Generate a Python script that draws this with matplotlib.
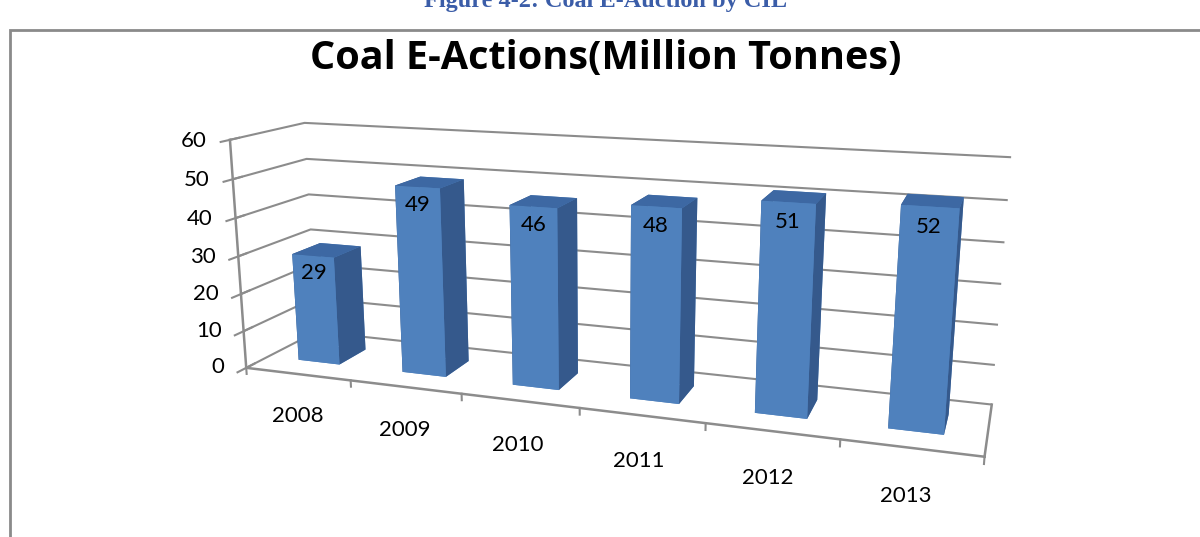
import matplotlib.pyplot as plt
from matplotlib.patches import Rectangle

plt.rcParams['font.family'] = ['Lato', 'DejaVu Sans']

years = ['2008', '2009', '2010', '2011', '2012', '2013']
tonnes = [29, 49, 46, 48, 51, 52]
z_ticks = [0, 10, 20, 30, 40, 50, 60]

front_c = '#4F81BD'
side_c = '#35598C'
top_c = '#3D68A3'
grid_c = '#8C8C8C'

fig = plt.figure(figsize=(12, 5.37), dpi=100)

# outer chart border and the cut-off figure caption
fig.add_artist(Rectangle((10 / 1200, -0.1), 1.5, 1.1 - 30 / 537,
                         transform=fig.transFigure, fill=False,
                         ec='#8A8A8A', lw=2))
fig.text(606 / 1200, 1 - 7 / 537, 'Figure 4-2: Coal E-Auction by CIL',
         family='Liberation Serif', weight='bold', size=17.5,
         color='#3B5DA8', ha='center', va='baseline')
fig.text(606 / 1200, 1 - 69 / 537, 'Coal E-Actions(Million Tonnes)',
         family=['Open Sans', 'DejaVu Sans'], weight='bold', size=28.5,
         ha='center', va='baseline')

ax = fig.add_axes([0.1671, -0.2518, 0.6535, 1.4603], projection='3d')
ax.set_proj_type('persp', focal_length=0.3)
ax.view_init(elev=14, azim=-71)
ax.set_box_aspect((700, 130, 226), zoom=1.0)

n = len(tonnes)
xs = list(range(n))
bw = 0.4
y0 = 0.3
depth = 0.4
faces = []
for _ in range(n):
    # -z, +z, -y, +y, -x, +x
    faces += [front_c, top_c, front_c, front_c, side_c, side_c]
ax.bar3d([x - bw / 2 for x in xs], [y0] * n, [0] * n, bw, depth, tonnes,
         color=faces, shade=False, linewidth=0)

ax.set_xlim(-0.5, n - 0.5, view_margin=0)
ax.set_ylim(0, 1, view_margin=0)
ax.set_zlim(0, 60, view_margin=0)
ax.set_xticks([x + 0.5 for x in range(-1, n)])
ax.set_yticks([])
ax.set_zticks(z_ticks)
ax.zaxis.set_ticks_position('lower')
# category ticks hang straight down from the front edge
ax.xaxis._get_tickdir = lambda position: 2
for axis in (ax.xaxis, ax.yaxis, ax.zaxis):
    axis.set_tick_params(labelbottom=False)
    axis.set_pane_color((1, 1, 1, 0))
    axis.pane.set_edgecolor('none')
    axis.line.set_color(grid_c)
    axis.line.set_linewidth(1.8)
    axis._axinfo['grid']['color'] = grid_c
    axis._axinfo['grid']['linewidth'] = 1.5
    axis._axinfo['tick']['linewidth'] = {True: 1.5, False: 1.0}
ax.xaxis._axinfo['grid']['linewidth'] = 0
ax.xaxis._axinfo['tick']['inward_factor'] = 0.0
ax.xaxis._axinfo['tick']['outward_factor'] = 0.35
ax.zaxis._axinfo['tick']['inward_factor'] = 1.4
ax.zaxis._axinfo['tick']['outward_factor'] = 1.4
ax.tick_params(colors=grid_c, width=1.5)

for z in z_ticks:
    ax.text(-0.72, 0, z - 0.6, str(z), ha='right', va='center', fontsize=16)
for x, yr in zip(xs, years):
    ax.text(x - 0.02, 0, -11.5, yr, ha='center', va='center', fontsize=16)
for x, v in zip(xs, tonnes):
    ax.text(x, y0, v - 4.5, str(v), ha='center', va='center', fontsize=16,
            zorder=10)

fig.savefig('out.png', dpi=100)
